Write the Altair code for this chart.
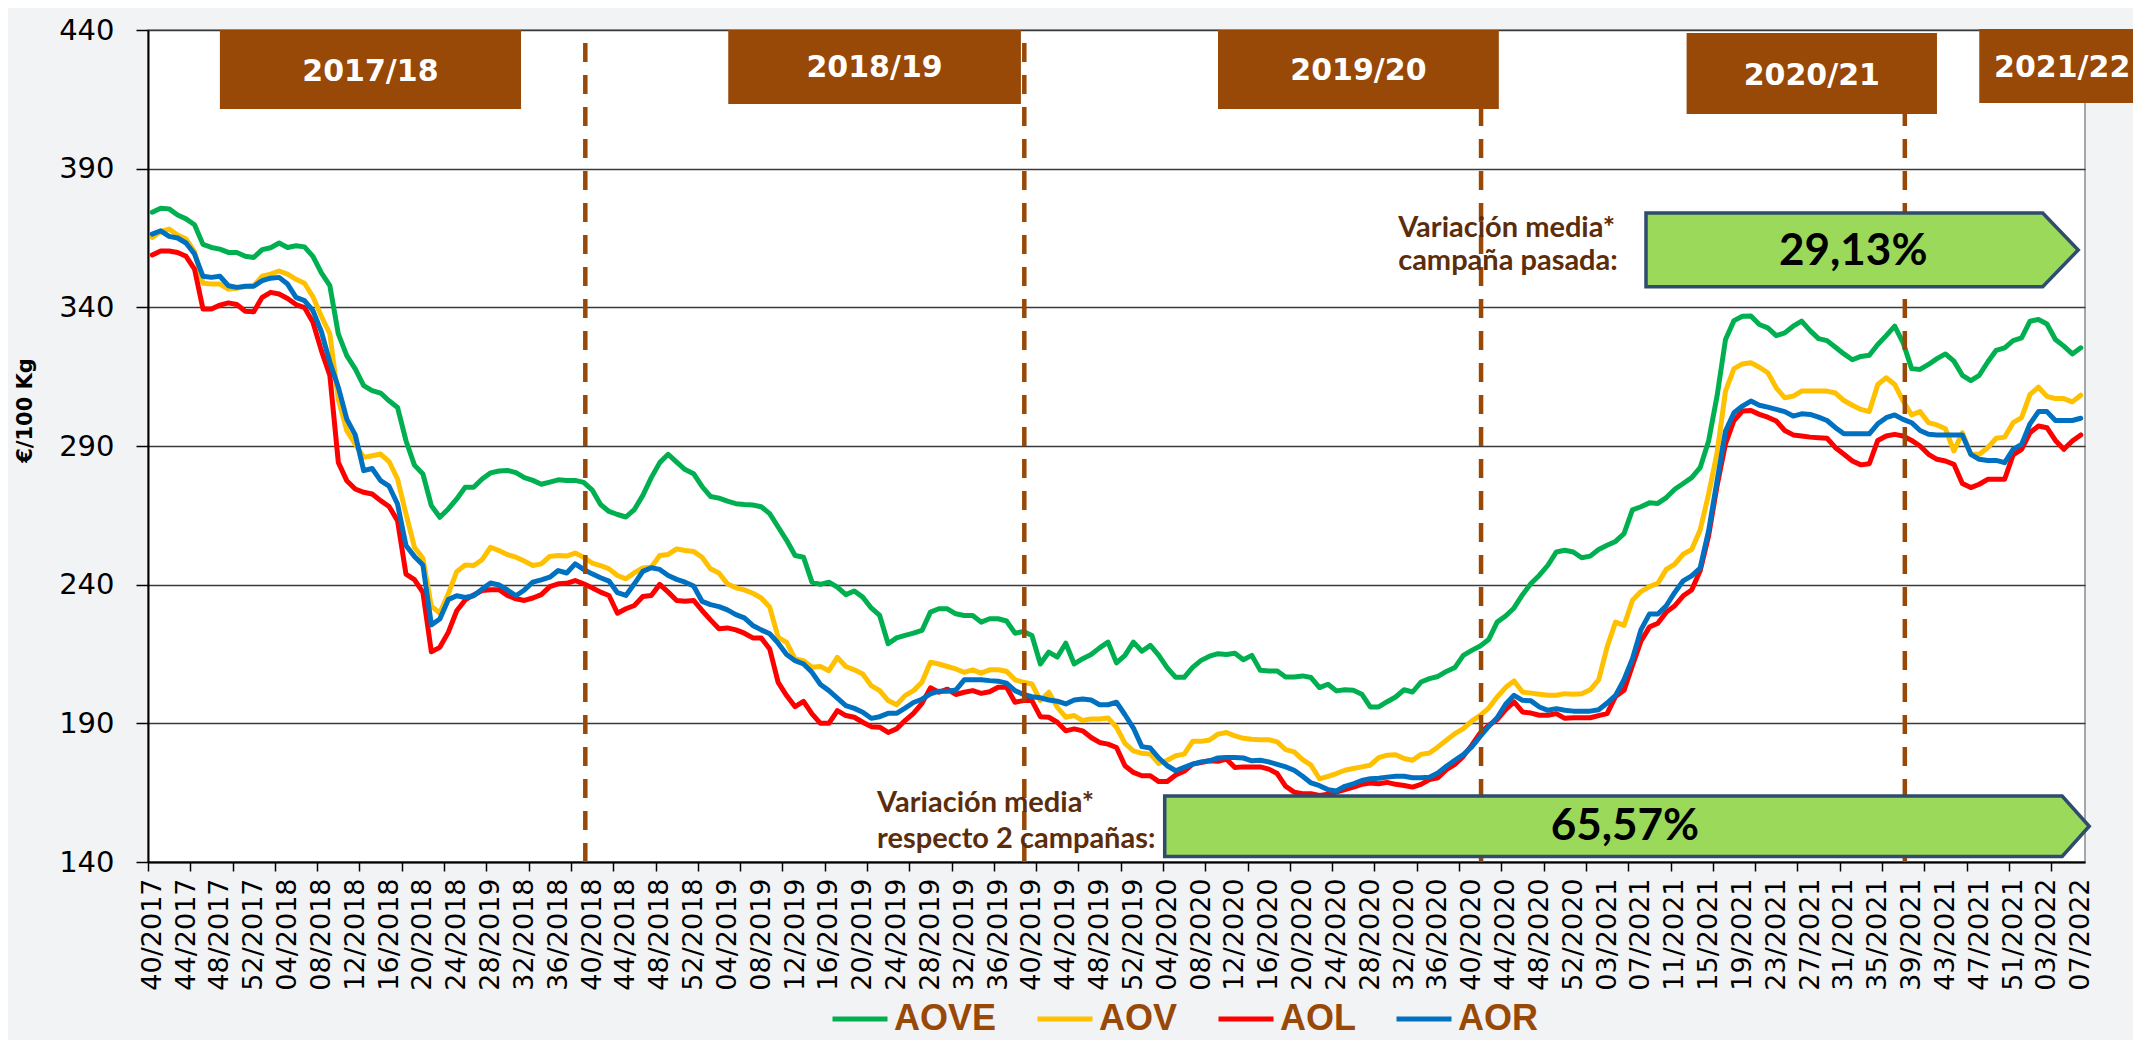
import json
import altair as alt
import pandas as pd

# ---------------- data ----------------
week_labels = [
    "40/2017", "44/2017", "48/2017", "52/2017",
    "04/2018", "08/2018", "12/2018", "16/2018", "20/2018", "24/2018", "28/2019", "32/2018", "36/2018",
    "40/2018", "44/2018", "48/2018", "52/2018",
    "04/2019", "08/2019", "12/2019", "16/2019", "20/2019", "24/2019", "28/2019", "32/2019", "36/2019",
    "40/2019", "44/2019", "48/2019", "52/2019",
    "04/2020", "08/2020", "12/2020", "16/2020", "20/2020", "24/2020", "28/2020", "32/2020", "36/2020",
    "40/2020", "44/2020", "48/2020", "52/2020",
    "03/2021", "07/2021", "11/2021", "15/2021", "19/2021", "23/2021", "27/2021", "31/2021", "35/2021",
    "39/2021", "43/2021", "47/2021", "51/2021",
    "03/2022", "07/2022",
]

AOVE = [
    374.3, 375.7, 375.5, 373.3, 371.9, 369.8, 362.7, 361.6, 361.0, 359.8,
    359.8, 358.4, 358.0, 360.8, 361.5, 363.2, 361.6, 362.2, 361.8, 358.4,
    352.4, 347.8, 330.4, 322.6, 317.8, 311.8, 310.0, 309.1, 306.3, 303.9,
    291.9, 283.1, 279.9, 268.5, 264.3, 267.3, 270.9, 275.1, 275.1, 278.1,
    280.3, 281.0, 281.2, 280.4, 278.6, 277.6, 276.2, 277.0, 277.8, 277.6,
    277.6, 276.9, 274.2, 268.9, 266.4, 265.3, 264.4, 267.1, 272.2, 278.6,
    284.0, 287.0, 284.2, 281.5, 280.0, 275.4, 271.8, 271.2, 270.1, 269.2,
    268.9, 268.7, 268.1, 265.6, 260.8, 256.0, 250.5, 249.9, 240.9, 240.1,
    240.9, 239.1, 236.4, 237.7, 235.5, 231.6, 228.9, 218.7, 220.8, 221.7,
    222.5, 223.5, 230.1, 231.3, 231.3, 229.5, 228.9, 228.9, 226.5, 227.7,
    227.7, 226.9, 222.5, 223.1, 221.7, 211.4, 215.7, 213.9, 218.9, 211.4,
    213.3, 214.8, 217.2, 219.3, 211.8, 214.5, 219.3, 216.0, 218.1, 214.5,
    210.0, 206.6, 206.6, 210.2, 212.7, 214.2, 215.1, 214.8, 215.3, 212.9,
    214.5, 209.1, 208.9, 208.9, 206.7, 206.7, 207.1, 206.5, 202.9, 204.1,
    201.7, 202.1, 201.9, 200.5, 195.9, 195.9, 197.8, 199.5, 202.1, 201.3,
    204.9, 206.1, 206.9, 208.7, 210.1, 214.5, 216.3, 217.9, 220.2, 226.5,
    228.7, 231.6, 236.4, 240.4, 243.4, 247.0, 251.8, 252.4, 251.8, 249.7,
    250.3, 252.7, 254.2, 255.6, 258.4, 267.0, 268.1, 269.5, 269.3, 271.4,
    274.4, 276.5, 278.6, 282.2, 291.8, 308.0, 328.4, 335.2, 336.8, 336.9,
    333.8, 332.6, 329.8, 330.8, 333.2, 335.0, 331.6, 328.7, 328.0, 325.6,
    323.2, 321.1, 322.3, 322.7, 326.6, 329.8, 333.2, 327.2, 317.9, 317.6,
    319.4, 321.5, 323.2, 320.6, 315.5, 313.6, 315.5, 320.3, 324.5, 325.4,
    328.0, 329.0, 335.0, 335.6, 334.0, 328.4, 326.0, 323.2, 325.4,
]

AOV = [
    365.2, 367.3, 368.2, 366.1, 364.6, 360.1, 348.7, 348.4, 348.4, 346.6,
    346.9, 347.5, 347.8, 351.2, 352.0, 353.1, 352.0, 350.1, 348.7, 343.8,
    336.8, 330.4, 306.9, 295.5, 290.7, 285.9, 286.5, 287.1, 284.4, 278.1,
    265.5, 253.5, 249.5, 232.2, 229.8, 236.7, 244.7, 247.1, 246.9, 249.0,
    253.5, 252.3, 250.8, 249.9, 248.5, 246.9, 247.5, 250.2, 250.5, 250.3,
    251.4, 249.9, 247.8, 246.9, 245.7, 243.3, 242.1, 244.3, 246.0, 246.3,
    250.5, 250.9, 252.9, 252.3, 252.0, 249.9, 245.7, 244.2, 240.3, 238.9,
    238.1, 236.9, 235.2, 231.9, 221.0, 219.2, 213.2, 212.6, 210.2, 210.5,
    209.0, 213.8, 210.5, 209.3, 207.8, 203.6, 201.8, 198.2, 196.7, 200.0,
    201.8, 204.8, 212.0, 211.4, 210.5, 209.6, 208.4, 209.3, 208.1, 209.3,
    209.3, 208.8, 205.7, 204.8, 204.2, 198.2, 201.2, 195.8, 192.2, 192.8,
    191.0, 191.6, 191.6, 191.9, 188.6, 182.8, 180.1, 179.2, 178.9, 175.5,
    176.7, 178.3, 178.9, 183.5, 183.5, 184.0, 186.1, 186.7, 185.5, 184.6,
    184.3, 184.1, 184.1, 183.3, 180.5, 179.7, 176.9, 174.9, 170.0, 170.9,
    171.9, 173.1, 173.7, 174.3, 174.9, 177.6, 178.5, 178.7, 177.3, 176.7,
    178.8, 179.3, 181.5, 183.9, 186.3, 188.1, 190.8, 192.9, 195.5, 199.5,
    202.9, 205.3, 201.3, 200.9, 200.5, 200.1, 200.1, 200.7, 200.5, 200.7,
    202.1, 205.7, 217.5, 226.5, 225.3, 234.4, 237.5, 239.3, 240.5, 245.5,
    247.4, 251.0, 252.7, 259.7, 272.6, 287.6, 309.8, 317.9, 319.6, 320.0,
    318.4, 316.4, 311.0, 307.4, 308.0, 309.8, 309.8, 309.8, 309.8, 309.1,
    306.4, 304.7, 303.2, 302.4, 312.2, 314.6, 312.2, 306.2, 301.2, 302.4,
    298.4, 297.6, 296.2, 288.2, 294.8, 287.0, 287.0, 289.4, 292.8, 293.2,
    298.4, 300.2, 308.6, 311.2, 307.9, 307.1, 307.1, 305.9, 308.3,
]

AOL = [
    358.9, 360.3, 360.3, 359.8, 358.4, 353.8, 339.4, 339.4, 340.8, 341.6,
    341.0, 338.6, 338.4, 343.6, 345.4, 344.8, 343.2, 341.0, 339.9, 334.6,
    324.4, 315.4, 284.1, 277.5, 274.5, 273.3, 272.7, 270.3, 268.2, 263.1,
    243.8, 241.8, 237.2, 215.8, 217.4, 222.8, 230.6, 234.5, 236.3, 237.9,
    238.2, 238.2, 236.1, 234.9, 234.3, 235.2, 236.4, 239.3, 240.3, 240.5,
    241.5, 240.3, 238.9, 237.3, 236.1, 229.7, 231.3, 232.5, 235.7, 236.1,
    240.1, 237.3, 234.3, 234.0, 234.3, 230.7, 227.3, 224.1, 224.4, 223.7,
    222.5, 220.8, 220.8, 216.8, 204.8, 200.0, 196.0, 197.9, 193.4, 190.0,
    190.0, 194.6, 192.8, 192.2, 190.4, 188.8, 188.6, 186.7, 188.0, 191.0,
    193.6, 197.2, 202.8, 201.2, 202.3, 200.4, 201.2, 201.8, 200.8, 201.4,
    203.0, 203.0, 197.6, 198.2, 198.2, 192.4, 192.2, 190.4, 187.3, 188.0,
    187.3, 184.9, 183.1, 182.5, 181.3, 174.7, 172.3, 171.1, 171.1, 169.0,
    169.0, 171.4, 172.7, 175.3, 175.9, 176.5, 176.3, 177.1, 174.1, 174.3,
    174.3, 174.3, 173.5, 171.9, 167.3, 165.2, 164.6, 164.6, 164.0, 164.4,
    165.2, 166.1, 167.0, 168.0, 168.5, 168.2, 168.7, 168.0, 167.6, 167.0,
    168.0, 169.7, 170.4, 173.3, 175.2, 178.1, 182.1, 186.5, 189.3, 191.3,
    194.9, 197.7, 194.1, 193.7, 192.9, 192.9, 193.5, 191.8, 192.0, 192.0,
    192.0, 192.8, 193.5, 199.7, 201.9, 210.9, 219.6, 224.7, 226.1, 230.1,
    232.4, 236.0, 238.1, 245.0, 257.6, 275.6, 290.8, 299.2, 302.6, 302.8,
    301.4, 300.4, 299.0, 295.6, 294.0, 293.6, 293.2, 293.0, 292.8, 289.4,
    287.0, 284.6, 283.2, 283.6, 292.0, 293.6, 294.2, 293.6, 292.0, 290.0,
    287.0, 285.2, 284.6, 283.4, 276.5, 275.0, 276.2, 278.0, 278.0, 278.0,
    286.8, 288.8, 294.8, 297.2, 296.6, 292.0, 288.8, 291.8, 294.0,
]

AOR = [
    366.4, 367.6, 365.6, 365.0, 363.2, 359.2, 351.2, 350.8, 351.2, 347.8,
    347.2, 347.6, 347.6, 349.6, 350.5, 350.8, 348.4, 343.6, 342.4, 338.8,
    331.2, 320.2, 311.2, 299.7, 294.0, 281.1, 281.9, 277.5, 275.5, 269.1,
    254.1, 250.2, 247.1, 225.5, 227.6, 234.6, 236.0, 235.4, 236.0, 238.4,
    240.6, 239.9, 238.1, 236.0, 238.1, 240.9, 241.7, 242.7, 245.1, 244.2,
    247.5, 245.5, 243.9, 242.5, 241.3, 237.1, 236.1, 240.3, 244.8, 246.1,
    245.5, 243.3, 241.9, 240.9, 239.5, 234.0, 232.8, 232.1, 230.9, 229.2,
    228.0, 225.3, 223.7, 222.3, 218.9, 214.8, 212.6, 211.4, 208.4, 204.0,
    201.8, 199.1, 196.4, 195.4, 194.0, 191.8, 192.4, 193.6, 193.6, 195.5,
    197.5, 198.7, 200.6, 201.6, 201.6, 202.0, 205.7, 205.7, 205.7, 205.4,
    205.2, 204.5, 201.8, 200.4, 199.6, 199.2, 198.4, 198.0, 197.0, 198.4,
    198.8, 198.4, 196.7, 196.7, 197.6, 193.1, 188.3, 181.6, 181.1, 177.5,
    174.7, 172.9, 174.1, 175.3, 176.1, 176.5, 177.5, 177.7, 177.7, 177.5,
    176.5, 176.7, 176.1, 175.2, 174.3, 173.1, 170.9, 168.5, 167.5, 166.1,
    165.6, 167.3, 168.2, 169.4, 170.0, 170.2, 170.6, 170.9, 170.9, 170.4,
    170.4, 170.6, 172.1, 174.5, 176.7, 178.7, 181.5, 185.3, 188.9, 192.0,
    196.9, 200.1, 198.3, 198.1, 195.9, 194.7, 195.3, 194.7, 194.4, 194.4,
    194.4, 194.9, 197.3, 200.1, 205.7, 213.3, 223.7, 229.4, 229.4, 232.4,
    237.2, 241.4, 243.2, 246.0, 259.4, 277.4, 295.4, 302.0, 304.4, 306.2,
    304.7, 304.0, 303.2, 302.4, 300.8, 301.6, 301.4, 300.4, 299.2, 296.6,
    294.4, 294.4, 294.4, 294.4, 298.0, 300.2, 301.2, 299.6, 298.4, 295.6,
    294.2, 294.0, 294.0, 294.0, 294.0, 287.0, 285.2, 284.8, 284.8, 284.0,
    288.8, 290.6, 298.0, 302.4, 302.4, 299.2, 299.2, 299.2, 300.0,
]

series_names = ["AOVE", "AOV", "AOL", "AOR"]
series_values = [AOVE, AOV, AOL, AOR]

campaigns = ["2017/18", "2018/19", "2019/20", "2020/21", "2021/22"]
season_breaks = [51.2, 103.1, 157.1, 207.2]
pct_texts = ["29,13%", "65,57%"]
note_lines = ["Variación media*", "campaña pasada:", "Variación media*", "respecto 2 campañas:"]

# ------------- annotation placement (data units: week index / €/100 Kg) -------------
camp_x0 = [8.0, 68.1, 126.0, 181.4, 216.0]
camp_x1 = [43.6, 102.7, 159.2, 211.0, 236.0]
camp_y0 = [411.5, 413.3, 411.5, 409.7, 413.7]
camp_y1 = [440.0, 440.0, 440.0, 438.9, 440.4]
camp_tx = [25.8, 85.4, 142.6, 196.2, 225.8]
camp_ty = [424.9, 426.3, 425.2, 423.4, 426.3]

note_x = [147.3, 147.3, 85.7, 85.7]
note_y = [365.5, 353.5, 158.0, 145.0]

arrow_id = ["top", "top", "top", "bottom", "bottom", "bottom"]
arrow_x = [176.6, 223.5, 227.7, 119.7, 225.8, 229.0]
arrow_lo = [347.4, 347.4, 360.7, 142.0, 142.0, 152.9]
arrow_hi = [374.0, 374.0, 360.7, 163.8, 163.8, 152.9]
pct_x = [201.1, 174.1]
pct_y = [360.0, 152.6]

# ---------------- frames ----------------
rows = []
for name, vals in zip(series_names, series_values):
    for i, v in enumerate(vals):
        rows.append({"week": i, "value": v, "serie": name})
df = pd.DataFrame(rows)

camp_df = pd.DataFrame({"label": campaigns, "x0": camp_x0, "x1": camp_x1,
                        "y0": camp_y0, "y1": camp_y1, "tx": camp_tx, "ty": camp_ty})
breaks_df = pd.DataFrame({"pos": season_breaks, "lo": [140] * 4, "hi": [440] * 4})
notes_df = pd.DataFrame({"text": note_lines, "x": note_x, "y": note_y})
arrows_df = pd.DataFrame({"arrow": arrow_id, "x": arrow_x, "lo": arrow_lo, "hi": arrow_hi})
pct_df = pd.DataFrame({"text": pct_texts, "x": pct_x, "y": pct_y})

# ---------------- scales / axes ----------------
x_scale = alt.Scale(domain=[-0.5, 228.5], nice=False, zero=False)
y_scale = alt.Scale(domain=[140, 440], nice=False, zero=False)

label_pos = list(range(0, 229, 4))
tick_pos = [k - 0.5 for k in range(0, 229, 5)]
x_values = sorted(label_pos + tick_pos)
label_expr = ("(datum.value % 4 == 0) ? " + json.dumps(week_labels) +
              "[round(datum.value / 4)] : ''")

x_axis = alt.Axis(
    values=x_values, labelExpr=label_expr, labelAngle=270, labelFont="DejaVu Sans",
    labelFontSize=27, labelColor="black", labelPadding=7, labelOverlap=False,
    labelFlush=False, tickSize=9, tickColor="black", tickWidth=1.5,
    tickOpacity={"condition": {"test": "datum.value % 1 != 0", "value": 1}, "value": 0},
    domainColor="black", domainWidth=2, grid=False, title="",
)
y_axis = alt.Axis(
    values=[140, 190, 240, 290, 340, 390, 440], labelFont="DejaVu Sans", labelFontSize=29,
    labelColor="black", labelPadding=22, tickSize=12, tickColor="black", tickWidth=1.5,
    domainColor="black", domainWidth=2, grid=True, gridColor="#3a3a3a", gridWidth=1.3,
    title="€/100 Kg", titleFont="DejaVu Sans", titleFontSize=21, titleFontWeight="bold",
    titleColor="black", titleAngle=270, titleX=-123, titleY=380, titleAlign="center",
    titleBaseline="middle",
)

legend = alt.Legend(
    title=None, orient="none", legendX=682, legendY=959, direction="horizontal",
    symbolType="stroke", symbolSize=3025, symbolStrokeWidth=5,
    labelFont="Liberation Sans", labelFontSize=36, labelFontWeight="bold",
    labelColor="#984807", labelOffset=4, columnPadding=30, padding=0,
)
color = alt.Color("serie:N", legend=legend,
                  scale=alt.Scale(domain=series_names,
                                  range=["#00b050", "#ffc000", "#ff0000", "#0070c0"]))


def X(field):
    return alt.X(field, scale=x_scale, axis=x_axis)


def Y(field):
    return alt.Y(field, scale=y_scale, axis=y_axis)


line_layers = []
for name in series_names:
    line_layers.append(
        alt.Chart(df).transform_filter(alt.datum.serie == name)
        .mark_line(strokeWidth=5, strokeJoin="round", strokeCap="round")
        .encode(x=X("week:Q"), y=Y("value:Q"), color=color)
    )

breaks = alt.Chart(breaks_df).mark_rule(color="#984807", strokeWidth=4.5,
                                        strokeDash=[19, 13]).encode(
    x=X("pos:Q"), y=Y("lo:Q"), y2="hi:Q",
)

camp_boxes = alt.Chart(camp_df).mark_rect(color="#984807").encode(
    x=X("x0:Q"), x2="x1:Q", y=Y("y0:Q"), y2="y1:Q",
)
camp_text = alt.Chart(camp_df).mark_text(
    font="DejaVu Sans", fontWeight="bold", fontSize=30, color="white",
    align="center", baseline="middle").encode(
    x=X("tx:Q"), y=Y("ty:Q"), text="label:N",
)

notes = alt.Chart(notes_df).mark_text(
    font="Lato", fontWeight="bold", fontSize=29, color="#5c2d0b",
    align="left", baseline="alphabetic").encode(
    x=X("x:Q"), y=Y("y:Q"), text="text:N",
)

arrows = alt.Chart(arrows_df).mark_area(
    fill="#9bd95a", stroke="#2f4b6e", strokeWidth=3.5, opacity=1).encode(
    x=X("x:Q"), y=Y("lo:Q"), y2="hi:Q", detail="arrow:N",
)
pct = alt.Chart(pct_df).mark_text(
    font="Lato", fontWeight="bold", fontSize=44, color="black",
    align="center", baseline="middle").encode(
    x=X("x:Q"), y=Y("y:Q"), text="text:N",
)

chart = alt.layer(
    *line_layers, breaks, camp_boxes, camp_text, notes, arrows, pct
).properties(
    width=1937, height=832,
    background="#f2f3f5",
    padding={"left": 140, "top": 22, "right": 48, "bottom": 178},
    autosize=alt.AutoSizeParams(type="none"),
).configure_view(
    fill="white", stroke="#8c8c8c", strokeWidth=1.5,
)

chart.save("out.html", embed_options={"renderer": "svg", "actions": False})
